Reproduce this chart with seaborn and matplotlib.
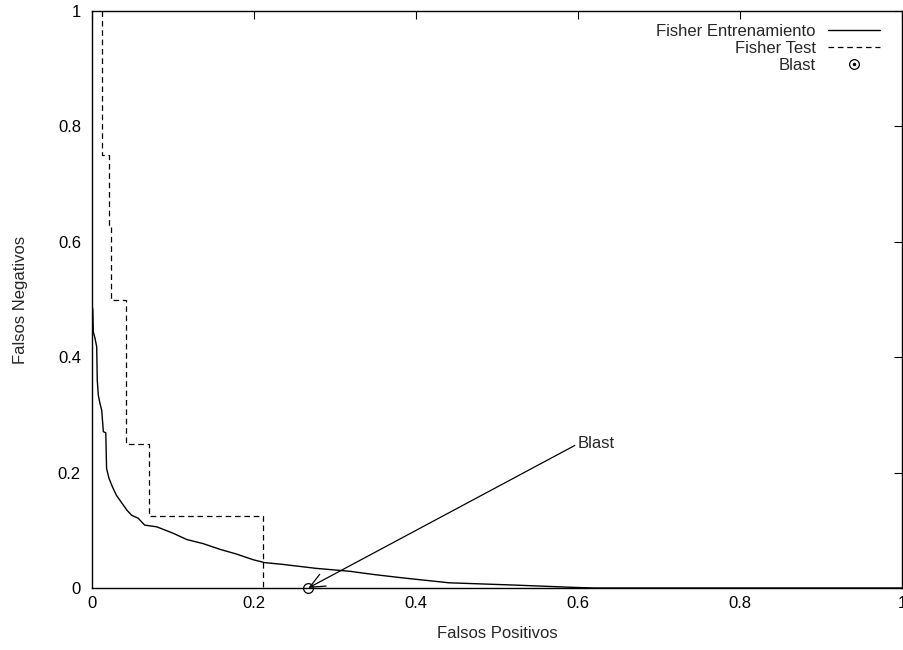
import matplotlib
matplotlib.use("Agg")
import matplotlib.pyplot as plt
import seaborn as sns
import pandas as pd
from matplotlib.lines import Line2D

# ---- data ----
train_fp = [0.0, 0.001, 0.0016, 0.0037, 0.0058, 0.0065, 0.0078, 0.0098, 0.012, 0.014,
            0.017, 0.018, 0.021, 0.025, 0.030, 0.037, 0.043, 0.049, 0.057, 0.065,
            0.080, 0.100, 0.117, 0.137, 0.158, 0.178, 0.199, 0.213, 0.235, 0.277,
            0.318, 0.350, 0.387, 0.441, 0.523, 0.596, 0.620, 1.0]
train_fn = [0.49, 0.482, 0.444, 0.433, 0.418, 0.360, 0.334, 0.320, 0.308, 0.271,
            0.269, 0.207, 0.190, 0.176, 0.161, 0.147, 0.135, 0.126, 0.121, 0.109,
            0.106, 0.095, 0.084, 0.077, 0.067, 0.059, 0.049, 0.044, 0.041, 0.034,
            0.029, 0.023, 0.017, 0.009, 0.005, 0.001, 0.0, 0.0]

test_fp = [0.0126, 0.0126, 0.0207, 0.0207, 0.0236, 0.0236, 0.042, 0.042, 0.0704, 0.0704, 0.211, 0.211]
test_fn = [1.0, 0.75, 0.75, 0.625, 0.625, 0.5, 0.5, 0.25, 0.25, 0.125, 0.125, 0.0]

blast_fp = [0.267]
blast_fn = [0.0]
blast_label_pos = (0.6, 0.25)

xticks = [0, 0.2, 0.4, 0.6, 0.8, 1]
xtick_labels = ["0", "0.2", "0.4", "0.6", "0.8", "1"]
yticks = [0, 0.2, 0.4, 0.6, 0.8, 1]
ytick_labels = ["0", "0.2", "0.4", "0.6", "0.8", "1"]

legend_labels = ["Fisher Entrenamiento", "Fisher Test", "Blast"]

# ---- style ----
sns.set_style("white")
plt.rcParams["font.family"] = ["Liberation Sans", "DejaVu Sans"]
plt.rcParams["font.size"] = 12

W, H = 904, 650
fig = plt.figure(figsize=(W / 100, H / 100), dpi=100)
L, R, T, B = 92, 902, 11, 588
ax = fig.add_axes([L / W, 1 - B / H, (R - L) / W, (B - T) / H])

df_train = pd.DataFrame({"fp": train_fp, "fn": train_fn})
df_test = pd.DataFrame({"fp": test_fp, "fn": test_fn})

sns.lineplot(data=df_train, x="fp", y="fn", sort=False, estimator=None,
             color="black", lw=1.0, ax=ax)
sns.lineplot(data=df_test, x="fp", y="fn", sort=False, estimator=None,
             color="black", lw=0.9, ax=ax)
ax.lines[-1].set_linestyle((0, (4.5, 3)))

ax.plot(blast_fp, blast_fn, marker="o", ms=7, mfc="none", mec="black", mew=0.9,
        ls="none", clip_on=False, zorder=5)

ax.annotate("Blast", xy=(blast_fp[0], blast_fn[0]), xytext=blast_label_pos,
            ha="left", va="center", fontsize=12,
            arrowprops=dict(arrowstyle="->,head_length=0.9,head_width=0.4",
                            color="black", lw=0.9, shrinkA=0, shrinkB=0,
                            relpos=(0, 0.5)))

ax.set_xlim(0, 1)
ax.set_ylim(0, 1)
ax.set_xticks(xticks)
ax.set_xticklabels(xtick_labels)
ax.set_yticks(yticks)
ax.set_yticklabels(ytick_labels)
ax.tick_params(direction="in", length=6, width=0.8, top=True, right=True,
               labelsize=12, colors="black")
ax.tick_params(axis="x", pad=6)
ax.tick_params(axis="y", pad=8)
for s in ax.spines.values():
    s.set_visible(True)
    s.set_linewidth(1.0)
    s.set_color("black")

ax.set_xlabel("Falsos Positivos", fontsize=12, va="center")
ax.set_ylabel("Falsos Negativos", fontsize=12, va="center")
ax.xaxis.set_label_coords(0.5, -(634 - B) / (B - T))
ax.yaxis.set_label_coords((20 - L) / (R - L), 0.5)

# ---- legend (gnuplot style: text right-aligned, sample on the right) ----
rows = [29.5, 47, 64]
text_right = 816
sx0, sx1 = 828, 880
styles = [dict(ls="-", lw=1.0), dict(ls=(0, (4.5, 3)), lw=0.9), None]
for lab, yc, st in zip(legend_labels, rows, styles):
    fig.text(text_right / W, 1 - (yc + 6) / H, lab, ha="right", va="baseline", fontsize=12)
    if st is not None:
        fig.add_artist(Line2D([sx0 / W, sx1 / W], [1 - yc / H, 1 - yc / H],
                              color="black", transform=fig.transFigure, **st))
    else:
        cx = (sx0 + sx1) / 2
        fig.add_artist(Line2D([cx / W], [1 - yc / H], marker="o", ms=7, mfc="none",
                              mec="black", mew=0.9, ls="none", transform=fig.transFigure))
        fig.add_artist(Line2D([cx / W], [1 - yc / H], marker="o", ms=1.5, mfc="black",
                              mec="black", ls="none", transform=fig.transFigure))

fig.savefig("out.png", dpi=100)
